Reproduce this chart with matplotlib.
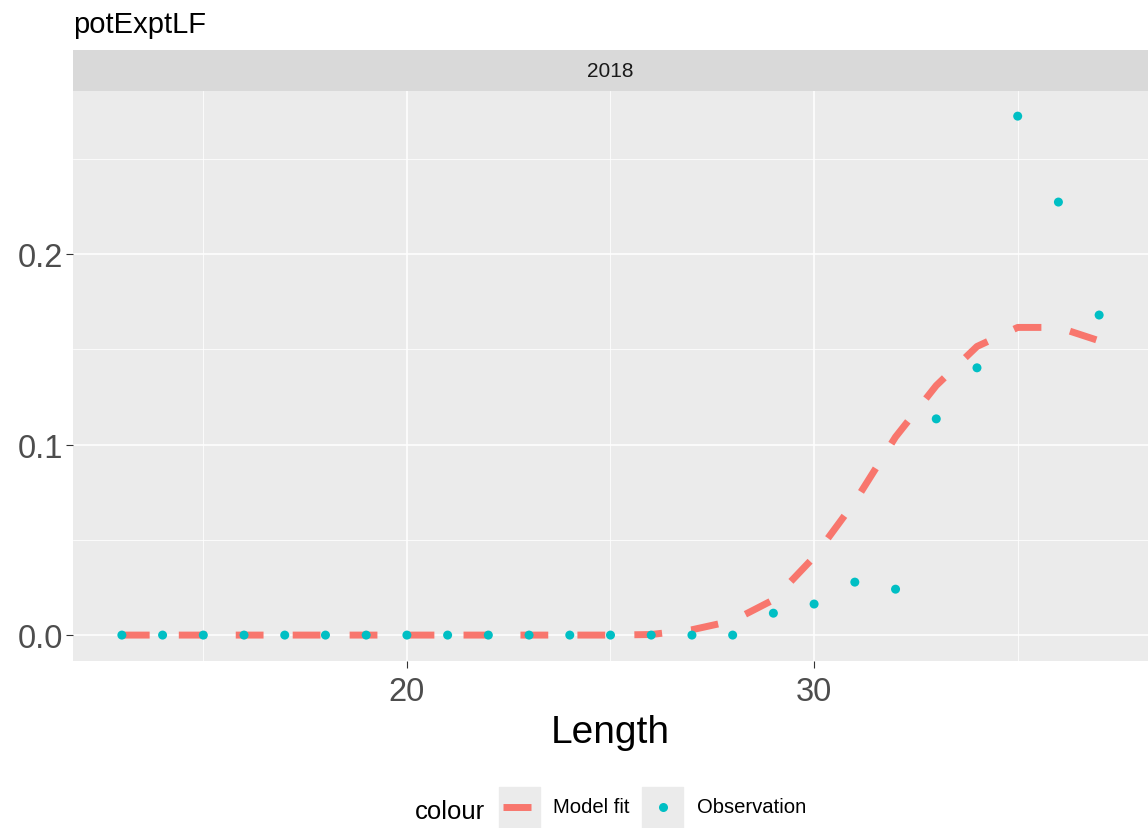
import numpy as np
import matplotlib.pyplot as plt
from matplotlib.lines import Line2D
from matplotlib.patches import Rectangle

plt.rcParams['font.family'] = ['Liberation Sans', 'DejaVu Sans']

# data
length = [13, 14, 15, 16, 17, 18, 19, 20, 21, 22, 23, 24, 25,
          26, 27, 28, 29, 30, 31, 32, 33, 34, 35, 36, 37]
observed = [0, 0, 0, 0, 0, 0, 0, 0, 0, 0, 0, 0, 0,
            0, 0, 0, 0.0115, 0.0163, 0.0278, 0.0241, 0.1135, 0.1403, 0.2724, 0.2273, 0.1680]
model_fit = [0, 0, 0, 0, 0, 0, 0, 0, 0, 0, 0, 0, 0,
             0.0003, 0.0028, 0.0075, 0.0185, 0.0410, 0.0700, 0.1040, 0.1310, 0.1515, 0.1615, 0.1615, 0.1545]
year = '2018'
x_major = [20, 30]
x_minor = [15, 25, 35]
y_major = [0.0, 0.1, 0.2]
y_minor = [0.05, 0.15, 0.25]

RED = '#F8766D'
TEAL = '#00BFC4'
W, H = 1148, 829

fig = plt.figure(figsize=(W / 100, H / 100), dpi=100)

def fx(px):
    return px / W

def fy(py):
    return 1 - py / H

# panel
left, right, top, bottom = 73, 1148, 92, 662
ax = fig.add_axes([fx(left), fy(bottom), fx(right - left), (bottom - top) / H])
ax.set_facecolor('#EBEBEB')
for s in ax.spines.values():
    s.set_visible(False)

ax.set_xlim(11.8, 38.2)
ax.set_ylim(-0.0136, 0.2856)
ax.set_xticks(x_major)
ax.set_xticks(x_minor, minor=True)
ax.set_yticks(y_major)
ax.set_yticks(y_minor, minor=True)
ax.set_yticklabels(['%.1f' % v for v in y_major])
ax.grid(which='major', color='white', lw=1.1)
ax.grid(which='minor', color='white', lw=0.55)
ax.set_axisbelow(True)
ax.tick_params(which='major', length=5, width=0.8, color='#333333',
               labelsize=23.5, labelcolor='#4D4D4D')
ax.tick_params(axis='x', which='major', pad=5.5)
ax.tick_params(axis='y', which='major', pad=2)
ax.tick_params(which='minor', length=0)

ax.plot(length, model_fit, color=RED, lw=5, dashes=(4, 4.2),
        solid_capstyle='butt', dash_capstyle='butt', zorder=3)
ax.scatter(length, observed, s=42, color=TEAL, edgecolors='none', zorder=4)

ax.set_xlabel('Length', fontsize=28, labelpad=5)

# facet strip
sax = fig.add_axes([fx(left), fy(top), fx(right - left), (top - 51) / H])
sax.set_facecolor('#D9D9D9')
sax.set_xticks([])
sax.set_yticks([])
for s in sax.spines.values():
    s.set_visible(False)
sax.text(0.5, 0.5, year, ha='center', va='center', fontsize=15,
         color='#1A1A1A', transform=sax.transAxes)

fig.text(fx(73), fy(33), 'potExptLF', fontsize=21, ha='left', va='baseline')

# legend at the bottom
fig.text(fx(415), fy(819), 'colour', fontsize=18.5, ha='left', va='baseline')
for kx in (499, 642):
    fig.patches.append(Rectangle((fx(kx), fy(829)), fx(41), 41 / H,
                                 transform=fig.transFigure, color='#EBEBEB'))
fig.lines.append(Line2D([fx(503), fx(531)], [fy(808), fy(808)], color=RED, lw=5,
                        solid_capstyle='butt', transform=fig.transFigure))
fig.lines.append(Line2D([fx(663)], [fy(808)], marker='o', ms=6.5, color=TEAL,
                        mec='none', transform=fig.transFigure))
fig.text(fx(553), fy(808), 'Model fit', fontsize=14.6, ha='left', va='center')
fig.text(fx(697), fy(808), 'Observation', fontsize=14.6, ha='left', va='center')

fig.savefig('out.png', dpi=100)
